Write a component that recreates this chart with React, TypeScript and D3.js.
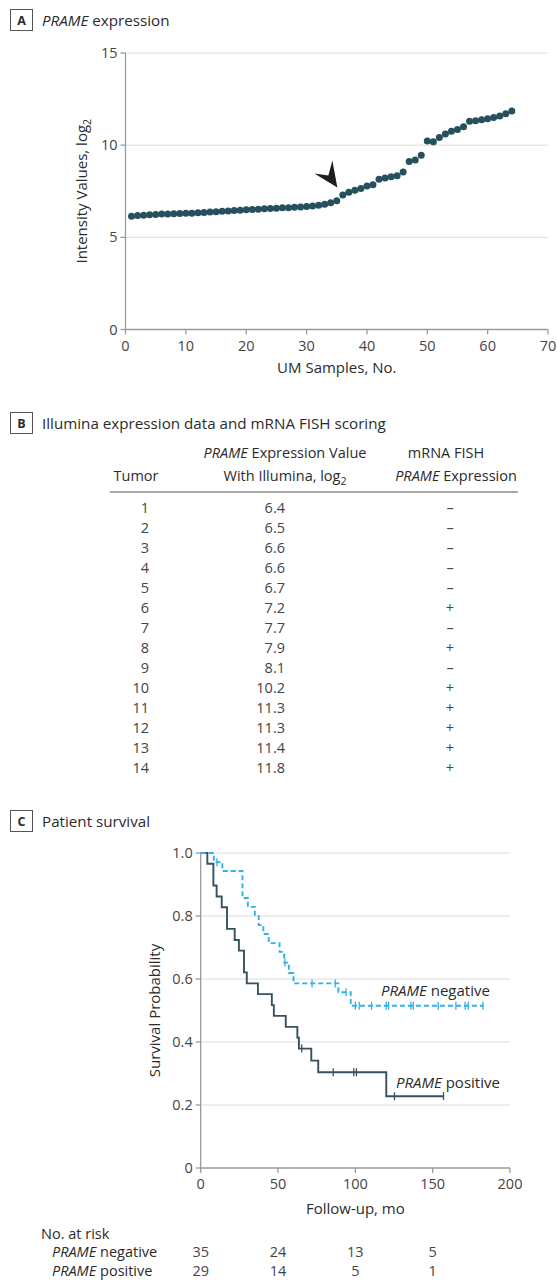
import React from "react";
import * as d3 from "d3";

// panel A: PRAME intensity per UM sample (sorted)
const sampleValues = [
  6.15, 6.18, 6.2, 6.22, 6.24, 6.26, 6.27, 6.28, 6.29, 6.3,
  6.31, 6.33, 6.35, 6.37, 6.39, 6.41, 6.43, 6.45, 6.47, 6.49,
  6.51, 6.53, 6.55, 6.57, 6.58, 6.6, 6.61, 6.63, 6.65, 6.67,
  6.7, 6.74, 6.8, 6.87, 6.98, 7.3, 7.45, 7.55, 7.65, 7.78,
  7.85, 8.15, 8.22, 8.28, 8.34, 8.55, 9.12, 9.2, 9.45, 10.22,
  10.18, 10.42, 10.6, 10.75, 10.85, 11.0, 11.3, 11.33, 11.38, 11.43,
  11.5, 11.58, 11.7, 11.85,
];
const arrowTip = [35.1, 7.7];

// panel B table
const tumorIds = [1, 2, 3, 4, 5, 6, 7, 8, 9, 10, 11, 12, 13, 14];
const illuminaValues = ["6.4", "6.5", "6.6", "6.6", "6.7", "7.2", "7.7", "7.9", "8.1", "10.2", "11.3", "11.3", "11.4", "11.8"];
const fishScores = ["–", "–", "–", "–", "–", "+", "–", "+", "–", "+", "+", "+", "+", "+"];

// panel C: Kaplan-Meier steps
const negTimes = [0, 8.5, 14, 27, 30.5, 35, 37.5, 40.5, 44, 51, 54, 57, 60, 89, 97];
const negSurv = [1, 0.971, 0.943, 0.857, 0.829, 0.8, 0.771, 0.743, 0.714, 0.686, 0.652, 0.619, 0.586, 0.558, 0.515];
const negEnd = 183;
const negCensor = [10.5, 54.5, 72, 87, 94, 100, 102.5, 110.5, 120, 121.5, 136, 137.5, 153.6, 165, 171, 173, 182.5];

const posTimes = [0, 4.3, 8.2, 10.3, 13.6, 17, 22, 24.7, 28, 29.8, 37, 46, 47.3, 55, 62.5, 63.5, 71.5, 76, 120];
const posSurv = [1, 0.966, 0.897, 0.862, 0.828, 0.759, 0.724, 0.69, 0.621, 0.586, 0.552, 0.517, 0.483, 0.448, 0.414, 0.379, 0.341, 0.304, 0.228];
const posEnd = 157;
const posCensor = [65.3, 85.7, 99, 100.7, 125.3, 157];

const riskTimes = [0, 50, 100, 150];
const riskNeg = [35, 24, 13, 5];
const riskPos = [29, 14, 5, 1];

const FONT = "'Open Sans', sans-serif";
const TEXT = "#2b2b2b";
const TICK = "#454545";
const AXIS = "#9a9a9a";
const GRID = "#dcdcdc";
const DOT = "#26505d";
const POS = "#36525d";
const NEG = "#2eb2ea";
const FS = 14.5;

const PanelLabel = ({ y, letter, children }: any) => (
  <g>
    <rect x={10.5} y={y - 16.5} width={22} height={21} fill="#fff" stroke="#555" strokeWidth={1} />
    <text x={21.5} y={y - 1} textAnchor="middle" fontSize={12.5} fontWeight="bold" fill={TEXT}>{letter}</text>
    <text x={42} y={y} fontSize={15.2} fill={TEXT}>{children}</text>
  </g>
);

const PanelA = () => {
  const x = d3.scaleLinear().domain([0, 70]).range([125.5, 548]);
  const y = d3.scaleLinear().domain([0, 15]).range([329.5, 53]);
  const [tx, ty] = [x(arrowTip[0]), y(arrowTip[1])];
  return (
    <g>
      <PanelLabel y={26} letter="A"><tspan fontStyle="italic">PRAME</tspan> expression</PanelLabel>
      {y.ticks(3).filter((d) => d > 0).map((d) => (
        <line key={d} x1={x(0)} x2={x(70)} y1={y(d)} y2={y(d)} stroke={GRID} />
      ))}
      <line x1={x(0)} x2={x(0)} y1={y(0)} y2={y(15)} stroke={AXIS} strokeWidth={1.3} />
      <line x1={x(0)} x2={x(70)} y1={y(0)} y2={y(0)} stroke={AXIS} strokeWidth={1.3} />
      {[0, 5, 10, 15].map((d) => (
        <g key={d}>
          <line x1={x(0) - 5} x2={x(0)} y1={y(d)} y2={y(d)} stroke={AXIS} strokeWidth={1.3} />
          <text x={x(0) - 8} y={y(d)} dy="0.35em" textAnchor="end" fontSize={FS} fill={TICK}>{d}</text>
        </g>
      ))}
      {d3.range(0, 71, 10).map((d) => (
        <g key={d}>
          <line x1={x(d)} x2={x(d)} y1={y(0)} y2={y(0) + 5} stroke={AXIS} strokeWidth={1.3} />
          <text x={x(d)} y={y(0) + 21} textAnchor="middle" fontSize={FS} fill={TICK}>{d}</text>
        </g>
      ))}
      <text x={x(35)} y={373} textAnchor="middle" fontSize={15} fill={TEXT}>UM Samples, No.</text>
      <text transform={`translate(87,${(y(0) + y(15)) / 2}) rotate(-90)`} textAnchor="middle" fontSize={15} fill={TEXT}>
        Intensity Values, log<tspan fontSize={10.5} dy={4}>2</tspan>
      </text>
      {sampleValues.map((v, i) => (
        <circle key={i} cx={x(i + 1)} cy={y(v)} r={3.5} fill={DOT} />
      ))}
      <path
        d={`M${tx},${ty} L${tx - 23},${ty - 14} L${tx - 9},${ty - 12} L${tx - 5},${ty - 27} Z`}
        fill="#1e1e1e"
      />
    </g>
  );
};

const PanelB = () => {
  const rowY = d3.scaleLinear().domain([0, 13]).range([513, 773]);
  return (
    <g fill={TEXT}>
      <PanelLabel y={429} letter="B">Illumina expression data and mRNA FISH scoring</PanelLabel>
      <text x={285} y={458} textAnchor="middle" fontSize={FS}>
        <tspan fontStyle="italic">PRAME</tspan> Expression Value
      </text>
      <text x={285} y={481} textAnchor="middle" fontSize={FS}>
        With Illumina, log<tspan fontSize={10.5} dy={4}>2</tspan>
      </text>
      <text x={136} y={481} textAnchor="middle" fontSize={FS}>Tumor</text>
      <text x={446} y={458} textAnchor="middle" fontSize={FS}>mRNA FISH</text>
      <text x={456} y={481} textAnchor="middle" fontSize={FS}>
        <tspan fontStyle="italic">PRAME</tspan> Expression
      </text>
      <line x1={110} x2={518} y1={492} y2={492} stroke="#555" strokeWidth={1.2} />
      {tumorIds.map((id, i) => (
        <g key={id} fontSize={FS} fill={TICK}>
          <text x={149} y={rowY(i)} textAnchor="end">{id}</text>
          <text x={285} y={rowY(i)} textAnchor="end">{illuminaValues[i]}</text>
          <text x={450} y={rowY(i)} textAnchor="middle">{fishScores[i]}</text>
        </g>
      ))}
    </g>
  );
};

const stepAt = (times: number[], surv: number[], t: number) => surv[Math.max(0, d3.bisectRight(times, t) - 1)];

const PanelC = () => {
  const x = d3.scaleLinear().domain([0, 200]).range([200.7, 510]);
  const y = d3.scaleLinear().domain([0, 1]).range([1168, 853]);
  const line = d3
    .line<[number, number]>()
    .x((d) => x(d[0]))
    .y((d) => y(d[1]))
    .curve(d3.curveStepAfter);
  const negPts: [number, number][] = negTimes.map((t, i) => [t, negSurv[i]]);
  negPts.push([negEnd, negSurv[negSurv.length - 1]]);
  const posPts: [number, number][] = posTimes.map((t, i) => [t, posSurv[i]]);
  posPts.push([posEnd, posSurv[posSurv.length - 1]]);
  const yTicks = [0, 0.2, 0.4, 0.6, 0.8, 1.0];
  return (
    <g>
      <PanelLabel y={827} letter="C">Patient survival</PanelLabel>
      {yTicks.filter((d) => d > 0).map((d) => (
        <line key={d} x1={x(0)} x2={x(200)} y1={y(d)} y2={y(d)} stroke={GRID} />
      ))}
      <line x1={x(0)} x2={x(0)} y1={y(0)} y2={y(1)} stroke={AXIS} strokeWidth={1.3} />
      <line x1={x(0)} x2={x(200)} y1={y(0)} y2={y(0)} stroke={AXIS} strokeWidth={1.3} />
      {yTicks.map((d) => (
        <g key={d}>
          <line x1={x(0) - 5} x2={x(0)} y1={y(d)} y2={y(d)} stroke={AXIS} strokeWidth={1.3} />
          <text x={x(0) - 8} y={y(d)} dy="0.35em" textAnchor="end" fontSize={FS} fill={TICK}>
            {d === 0 ? "0" : d3.format(".1f")(d)}
          </text>
        </g>
      ))}
      {d3.range(0, 201, 50).map((d) => (
        <g key={d}>
          <line x1={x(d)} x2={x(d)} y1={y(0)} y2={y(0) + 5} stroke={AXIS} strokeWidth={1.3} />
          <text x={x(d)} y={y(0) + 21} textAnchor="middle" fontSize={FS} fill={TICK}>{d}</text>
        </g>
      ))}
      <text x={x(100)} y={1214} textAnchor="middle" fontSize={15} fill={TEXT}>Follow-up, mo</text>
      <text transform={`translate(160,${(y(0) + y(1)) / 2}) rotate(-90)`} textAnchor="middle" fontSize={15} fill={TEXT}>
        Survival Probability
      </text>
      <path d={line(posPts) || ""} fill="none" stroke={POS} strokeWidth={1.9} />
      {posCensor.map((t, i) => (
        <line key={i} x1={x(t)} x2={x(t)} y1={y(stepAt(posTimes, posSurv, t)) - 4} y2={y(stepAt(posTimes, posSurv, t)) + 4} stroke={POS} strokeWidth={1.3} />
      ))}
      <path d={line(negPts) || ""} fill="none" stroke={NEG} strokeWidth={1.9} strokeDasharray="5,3" />
      {negCensor.map((t, i) => (
        <line key={i} x1={x(t)} x2={x(t)} y1={y(stepAt(negTimes, negSurv, t)) - 4} y2={y(stepAt(negTimes, negSurv, t)) + 4} stroke={NEG} strokeWidth={1.3} />
      ))}
      <text x={381} y={996} fontSize={15} fill={TEXT}><tspan fontStyle="italic">PRAME</tspan> negative</text>
      <text x={396} y={1088} fontSize={15} fill={TEXT}><tspan fontStyle="italic">PRAME</tspan> positive</text>
      <text x={41} y={1239} fontSize={FS} fill={TEXT}>No. at risk</text>
      <text x={52} y={1257} fontSize={FS} fill={TEXT}><tspan fontStyle="italic">PRAME</tspan> negative</text>
      <text x={52} y={1276} fontSize={FS} fill={TEXT}><tspan fontStyle="italic">PRAME</tspan> positive</text>
      {riskTimes.map((t, i) => (
        <g key={t} fontSize={FS} fill={TICK} textAnchor="middle">
          <text x={x(t)} y={1257}>{riskNeg[i]}</text>
          <text x={x(t)} y={1276}>{riskPos[i]}</text>
        </g>
      ))}
    </g>
  );
};

export default function App() {
  return (
    <svg
      width={557}
      height={1284}
      style={{ position: "absolute", left: 0, top: 0, background: "#fff" }}
      fontFamily={FONT}
    >
      <rect width={557} height={1284} fill="#fff" />
      <PanelA />
      <PanelB />
      <PanelC />
    </svg>
  );
}
